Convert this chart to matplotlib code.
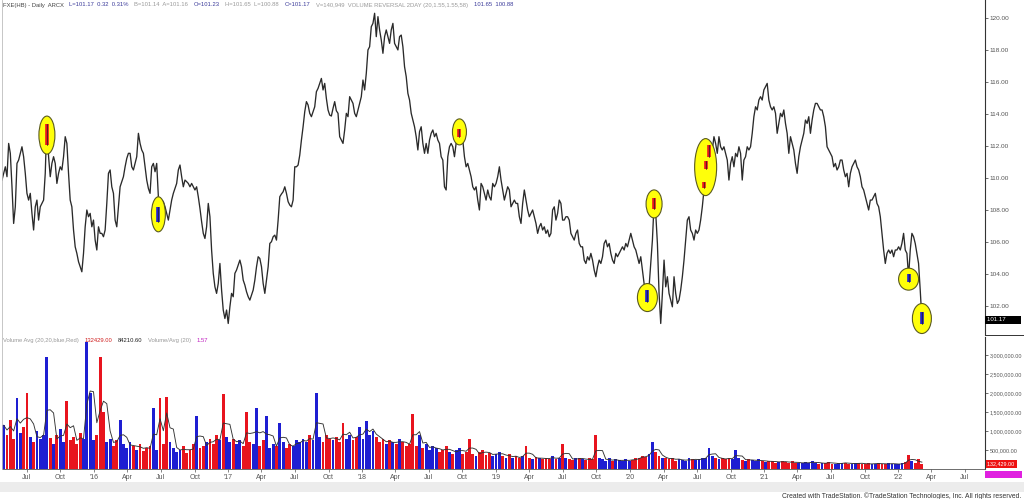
import numpy as np
import pandas as pd
import matplotlib
matplotlib.use("Agg")
import matplotlib.pyplot as plt
import matplotlib.dates as mdates
import matplotlib.transforms as mtransforms
from matplotlib.patches import Ellipse, Rectangle
from matplotlib.lines import Line2D
from matplotlib.ticker import FixedLocator, FuncFormatter

plt.rcParams['font.family'] = ['Liberation Sans', 'DejaVu Sans']

# ---------------- data ----------------
start_date = '2015-04-25'
end_date = '2022-03-06'

price_2015_2017 = [
    109.89, 110.31, 110.72, 110.10, 112.18, 111.56, 109.47, 107.18, 108.22, 110.93,
    111.14, 111.56, 111.97, 111.35, 110.31, 109.06, 108.64, 109.06, 107.81, 106.77,
    108.22, 108.64, 107.39, 108.22, 108.43, 108.64, 110.31, 113.64, 111.35, 110.10,
    110.93, 111.35, 110.93, 109.68, 110.31, 110.72, 110.52, 111.35, 112.60, 112.18,
    110.31, 108.64, 108.22, 106.77, 105.72, 105.31, 104.79, 104.47, 104.16, 105.31,
    106.97, 108.02, 107.60, 107.81, 106.97, 107.39, 106.14, 105.52, 106.97, 106.56,
    106.56, 106.35, 106.77, 108.43, 110.31, 110.52, 109.47, 109.06, 107.39, 106.97,
    108.22, 109.47, 109.79, 110.10, 110.72, 111.24, 111.56, 111.56, 110.72, 110.52,
    110.93, 111.35, 112.81, 112.18, 111.77, 111.56, 110.72, 109.89, 109.37, 109.06,
    110.72, 110.93, 110.41, 110.93, 108.85, 108.43, 108.64, 108.54, 108.22, 107.81,
    107.39, 108.02, 108.64, 109.06, 109.37, 109.68, 110.52, 110.83, 110.10, 109.47,
    109.89, 109.79, 109.68, 109.47, 109.68, 109.47, 109.27, 109.47, 108.85, 108.12,
    107.29, 106.56, 106.24, 106.97, 108.43, 107.60, 105.52, 104.06, 103.22, 102.81,
    103.43, 104.68, 103.02, 101.77, 101.24, 101.77, 100.93, 101.97, 102.81, 102.60,
    104.06, 104.27, 104.58, 104.89, 104.47, 103.64, 103.33, 102.91, 102.60, 102.39,
    102.70, 103.02, 103.64, 104.47, 105.10, 104.99, 104.47, 103.43, 102.81, 103.64,
    104.47, 105.93, 106.04, 106.35, 106.45, 106.14, 107.39, 108.85, 109.02, 109.16,
    109.47, 109.06, 108.54, 108.33, 108.22, 108.64, 110.72, 110.72, 110.83, 111.45,
    112.39, 113.22, 114.16, 114.79, 114.58, 114.06, 113.85, 114.16, 114.47, 115.41,
    115.62, 115.93, 116.24, 115.52, 115.93, 114.99, 114.27, 113.95, 113.89, 114.37,
    114.79, 114.22, 114.06, 112.60,
]
price_2017_2020 = [
    112.39, 112.18, 113.02, 114.06, 113.85, 115.10, 114.89, 114.68, 114.06, 113.85,
    114.27, 114.68, 115.10, 116.14, 115.52, 116.56, 118.02, 118.22, 119.47, 119.68,
    120.31, 118.85, 120.10, 119.27, 118.64, 117.81, 118.85, 119.27, 118.85, 118.43,
    119.27, 119.68, 118.43, 118.22, 118.02, 118.85, 118.95, 118.22, 116.97, 116.35,
    115.31, 114.89, 114.06, 113.64, 113.22, 112.60, 111.77, 112.91, 113.22, 112.18,
    111.56, 112.18, 111.56, 112.39, 112.81, 113.02, 112.60, 112.81, 112.39, 112.18,
    111.35, 111.14, 109.47, 109.27, 111.35, 111.97, 112.18, 111.97, 111.35, 112.18,
    112.60, 113.12, 112.81, 112.39, 111.35, 110.72, 110.93, 110.52, 110.10, 109.47,
    109.27, 109.47, 108.64, 108.02, 109.68, 109.47, 109.06, 108.64, 109.27, 108.85,
    108.64, 109.68, 109.47, 109.68, 110.10, 110.72, 109.89, 109.27, 108.64, 109.06,
    109.47, 109.27, 108.22, 108.43, 108.64, 108.43, 108.43, 107.60, 107.18, 108.43,
    109.27, 108.64, 108.02, 107.60, 107.81, 108.02, 107.60, 107.18, 106.56, 106.97,
    107.18, 106.77, 106.97, 106.56, 106.77, 106.35, 106.56, 108.02, 108.22, 107.39,
    107.81, 108.64, 108.43, 107.39, 107.39, 107.60, 107.60, 107.39, 106.56, 106.35,
    106.14, 106.56, 106.77, 105.93, 105.72, 105.72, 104.89, 104.68, 105.10, 104.89,
    105.31, 104.89, 104.27, 103.85, 104.47, 104.89, 104.68, 105.10, 105.93, 106.14,
    105.72, 105.93, 105.31, 104.89, 104.68, 105.31, 105.10, 105.31, 105.52, 105.72,
    105.52, 105.93, 105.72, 106.14, 106.56, 106.14, 105.72, 105.52, 105.10, 104.68,
    105.10, 104.27, 103.43, 102.81, 102.39, 103.22, 104.68, 106.14, 108.43, 107.81,
    105.93, 102.81, 100.93, 102.81, 104.89, 103.22, 103.85, 102.81,
]
price_2020_2022 = [
    102.39, 101.97, 103.85, 102.81, 102.18, 102.39, 103.02, 103.85, 104.89, 106.14,
    107.39, 107.60, 106.77, 106.56, 106.14, 106.77, 106.56, 106.77, 107.39, 108.22,
    109.27, 110.72, 111.77, 111.97, 111.56, 111.77, 112.60, 112.18, 111.56, 112.60,
    111.97, 111.77, 111.97, 111.56, 111.14, 109.89, 110.93, 111.35, 110.72, 111.56,
    111.35, 111.97, 111.56, 109.89, 111.14, 111.35, 111.97, 111.77, 111.97, 112.81,
    113.85, 114.47, 114.27, 114.89, 115.10, 114.89, 115.52, 115.72, 115.93, 114.89,
    114.47, 114.27, 114.47, 114.06, 112.81, 113.43, 114.06, 113.85, 114.27, 113.43,
    112.81, 111.56, 112.60, 112.18, 111.77, 110.93, 110.31, 111.35, 111.97, 112.39,
    112.81, 113.64, 113.43, 113.85, 112.81, 113.64, 114.27, 114.68, 114.68, 114.47,
    114.27, 114.27, 113.85, 113.22, 111.97, 111.77, 111.56, 111.35, 110.72, 110.93,
    110.52, 110.72, 111.14, 111.14, 110.52, 110.10, 110.31, 109.47, 110.31, 110.72,
    110.93, 111.14, 110.72, 110.52, 110.10, 109.47, 109.27, 108.85, 108.43, 108.02,
    108.64, 108.64, 108.85, 109.06, 108.43, 108.22, 107.60, 106.56, 105.52, 104.68,
    105.31, 105.52, 105.31, 105.52, 105.10, 105.52, 105.52, 105.72, 105.52, 105.93,
    106.56, 105.52, 105.31, 103.85, 105.52, 106.56, 106.35, 105.93, 105.31, 104.68,
    103.02, 101.17,
]
price = price_2015_2017 + price_2017_2020 + price_2020_2022

# volume (thousands of shares), one value per two price samples
volume_k = [
    1150, 900, 1300, 800, 1870, 950, 1100, 2000, 850, 700, 1000, 780, 900, 2950, 820,
    650, 900, 1050, 700, 1800, 760, 850, 650, 950, 800, 3350, 2000, 750, 900, 2950,
    1500, 700, 800, 600, 750, 1300, 650, 550, 700, 600, 500, 650, 480, 550, 600,
    1600, 500, 1870, 650, 1900, 700, 550, 450, 500, 600, 420, 500, 650, 1400, 550,
    600, 700, 800, 650, 900, 750, 1970, 850, 700, 800, 650, 750, 600, 1500, 700,
    650, 1600, 600, 750, 1400, 550, 650, 600, 1200, 700, 550, 650, 600, 750, 700,
    800, 700, 900, 750, 2000, 850, 700, 900, 800, 750, 850, 700, 1200, 800, 900,
    750, 850, 1100, 800, 1250, 900, 1000, 850, 700, 800, 650, 750, 700, 650, 800,
    700, 600, 650, 1450, 600, 900, 550, 650, 500, 600, 550, 450, 500, 600, 450,
    400, 500, 550, 400, 450, 800, 400, 350, 450, 500, 380, 420, 350, 400, 450,
    350, 300, 400, 280, 330, 300, 350, 600, 300, 260, 320, 280, 250, 300, 270,
    330, 250, 280, 650, 300, 260, 240, 280, 300, 250, 230, 280, 260, 900, 300,
    250, 220, 280, 200, 250, 230, 200, 260, 220, 240, 280, 300, 350, 320, 400,
    700, 450, 350, 300, 280, 250, 300, 220, 260, 240, 200, 280, 250, 230, 260,
    300, 280, 550, 350, 300, 260, 280, 250, 300, 260, 500, 280, 240, 220, 260,
    230, 200, 250, 210, 180, 220, 200, 170, 190, 210, 180, 160, 200, 170, 150,
    160, 180, 150, 200, 170, 140, 160, 150, 190, 140, 130, 160, 150, 170, 140,
    130, 150, 160, 140, 120, 150, 130, 140, 160, 120, 130, 150, 140, 120, 130,
    150, 180, 370, 200, 160, 250, 132.429,
]

# highlighted two-day volume reversals (ellipse centre index, centre price)
ellipse_idx = [27, 94, 275, 388, 392, 423, 545, 553]
ellipse_price = [112.7, 107.75, 112.9, 102.55, 108.4, 110.7, 103.7, 101.24]
# reversal bars inside (index, high, low, direction: 1 = up/blue, -1 = down/red)
bar_idx = [27, 94, 275, 388, 392, 422, 423, 425, 545, 553]
bar_high = [113.4, 108.2, 113.1, 103.0, 108.8, 109.8, 111.1, 112.1, 104.0, 101.65]
bar_low = [112.1, 107.3, 112.6, 102.3, 108.1, 109.4, 110.6, 111.35, 103.5, 100.88]
bar_dir = [-1, 1, -1, 1, -1, -1, -1, -1, 1, 1]

price_ticks = [102, 104, 106, 108, 110, 112, 114, 116, 118, 120]
volume_ticks = [500000, 1000000, 1500000, 2000000, 2500000, 3000000]
last_price = 101.17
last_volume = 132429
volume_avg_last = 84210.60

# ---------------- styles ----------------
ell_w_px = [16, 14, 14, 20, 16, 22, 20, 19]
ell_h_px = [38, 35, 26, 28, 28, 57, 22, 30]
RED = '#e8141e'
BLUE = '#1e1ed2'
GREY_TXT = '#9a9a9a'
BLUE_TXT = '#3a3a9a'

W, H = 1024, 499
fig = plt.figure(figsize=(W / 100, H / 100), dpi=100)
fig.patch.set_facecolor('white')


def fx(px):
    return px / W


def fy(py):
    return 1 - py / H


axp = fig.add_axes([fx(2), fy(335), fx(985) - fx(2), fy(0) - fy(335)])
axv = fig.add_axes([fx(2), fy(469), fx(985) - fx(2), fy(337) - fy(469)], sharex=axp)
axp.set_facecolor('none')
axv.set_facecolor('none')

dates = pd.date_range(start_date, end_date, periods=len(price))
xnum = mdates.date2num(dates)

# ---- price panel ----
axp.plot(dates, price, color='#2a2a2a', lw=0.95, zorder=2, solid_joinstyle='round')

for k, (i, p) in enumerate(zip(ellipse_idx, ellipse_price)):
    trans = fig.dpi_scale_trans + mtransforms.ScaledTranslation(xnum[i], p, axp.transData)
    e = Ellipse((0, 0), ell_w_px[k] / 100, ell_h_px[k] / 100, transform=trans,
                facecolor='#ffff0a', edgecolor='#5a5a20', lw=0.8, zorder=3)
    axp.add_patch(e)

for i, hi, lo, d in zip(bar_idx, bar_high, bar_low, bar_dir):
    axp.plot([dates[i], dates[i]], [lo, hi], color=(BLUE if d > 0 else RED),
             lw=2.6, solid_capstyle='butt', zorder=4)
    axp.plot([dates[i], dates[i]], [lo, hi], color='#202020', lw=0.5, zorder=4.1)

axp.set_xlim(mdates.date2num(pd.Timestamp('2015-04-25')),
             mdates.date2num(pd.Timestamp('2022-08-25')))
axp.set_ylim(100.21, 121.14)
axp.yaxis.tick_right()
axp.yaxis.set_major_locator(FixedLocator(price_ticks))
axp.yaxis.set_major_formatter(FuncFormatter(lambda v, p: f'{v:.2f}'))
axp.tick_params(axis='y', labelsize=4.6, colors='#555555', length=2.5, width=0.6, pad=0.8)
axp.tick_params(axis='x', bottom=False, labelbottom=False)
for s in ['top', 'left', 'bottom']:
    axp.spines[s].set_visible(False)
axp.spines['right'].set_color('#333333')
axp.spines['right'].set_linewidth(0.8)

axp.text(1.002, last_price, f'{last_price:.2f}        ',
         transform=mtransforms.blended_transform_factory(axp.transAxes, axp.transData),
         color='white', fontsize=4.4, va='center', ha='left', zorder=10,
         bbox=dict(boxstyle='square,pad=0.25', fc='black', ec='none'))

# ---- volume panel ----
vdates = dates[1::2]
vprice = np.array(price)
vol = np.array(volume_k) * 1000.0
chg = np.diff(vprice, prepend=vprice[0])[1::2]
vcolors = [BLUE if c >= 0 else RED for c in chg]
step = (vdates[1] - vdates[0]).total_seconds() / 86400.0
axv.bar(vdates, vol, width=step * 0.85, color=vcolors, linewidth=0, align='center', zorder=2)
avg = pd.Series(vol).rolling(3, min_periods=1).mean()
axv.plot(vdates, avg, color='#333333', lw=0.65, zorder=3)

axv.set_ylim(0, 3.47e6)
axv.yaxis.tick_right()
axv.yaxis.set_major_locator(FixedLocator(volume_ticks))
axv.yaxis.set_major_formatter(FuncFormatter(lambda v, p: f'{v:,.2f}'))
axv.tick_params(axis='y', labelsize=3.9, colors='#555555', length=2.5, width=0.6, pad=0.8)
for s in ['top', 'left']:
    axv.spines[s].set_visible(False)
axv.spines['right'].set_color('#333333')
axv.spines['right'].set_linewidth(0.8)
axv.spines['bottom'].set_color('#555555')
axv.spines['bottom'].set_linewidth(0.6)

axv.xaxis.set_major_locator(mdates.MonthLocator(bymonth=[1, 4, 7, 10]))
axv.xaxis.set_major_formatter(FuncFormatter(
    lambda v, p: ("'" + mdates.num2date(v).strftime('%y')) if mdates.num2date(v).month == 1
    else mdates.num2date(v).strftime('%b')))
axv.tick_params(axis='x', labelsize=5.0, colors='#555555', length=2, width=0.5, pad=1.5)

axv.text(1.002, last_volume, '132,429.00 ',
         transform=mtransforms.blended_transform_factory(axv.transAxes, axv.transData),
         color='white', fontsize=3.9, va='center', ha='left', zorder=10,
         bbox=dict(boxstyle='square,pad=0.25', fc='#ee1111', ec='none'))
fig.patches.append(Rectangle((fx(985), fy(478)), fx(1022) - fx(985), fy(471) - fy(478),
                             transform=fig.transFigure, fc='#e020e0', ec='none'))

# separators
fig.lines.append(Line2D([fx(985), 1], [fy(335), fy(335)], transform=fig.transFigure,
                        color='#333333', lw=0.7))
fig.lines.append(Line2D([fx(2), fx(2)], [fy(0), fy(469)], transform=fig.transFigure,
                        color='#bdbdbd', lw=0.6))


# ---- header texts ----
def chain(ax, x, y, pieces, size, gap=4):
    prev = ax.text(x, y, pieces[0][0], color=pieces[0][1], fontsize=size,
                   va='center', ha='left', transform=fig.transFigure, zorder=20)
    for s, c in pieces[1:]:
        prev = ax.annotate(s, xy=(1, 0.5), xycoords=prev, xytext=(gap, 0),
                           textcoords='offset points', color=c, fontsize=size,
                           va='center', ha='left', annotation_clip=False, zorder=20)


chain(axp, fx(3), fy(5), [
    ('FXE(HB) - Daily  ARCX', '#444444'),
    ('L=101.17  0.32  0.31%', BLUE_TXT),
    ('B=101.14  A=101.16', GREY_TXT),
    ('O=101.23', BLUE_TXT),
    ('H=101.65  L=100.88', GREY_TXT),
    ('C=101.17', BLUE_TXT),
    ('V=140,949  VOLUME REVERSAL 2DAY (20,1.55,1.55,58)', GREY_TXT),
    ('101.65  100.88', BLUE_TXT),
], 4.2, gap=4)

chain(axv, fx(3), fy(340.5), [
    ('Volume Avg (20,20,blue,Red)', GREY_TXT),
    (f'{last_volume:.2f}', '#d02020'),
    (f'{volume_avg_last:.2f}', '#222222'),
    ('Volume/Avg (20)', GREY_TXT),
    ('1.57', '#c020c0'),
], 4.2, gap=4)

# bottom strip and credit
fig.patches.append(Rectangle((0, fy(492)), 1, fy(482) - fy(492), transform=fig.transFigure,
                             fc='#ececec', ec='none'))
fig.text(fx(1021), fy(496.5),
         'Created with TradeStation. \u00a9TradeStation Technologies, Inc. All rights reserved.',
         fontsize=4.9, color='#333333', ha='right', va='center')

fig.savefig('out.png', dpi=100)
